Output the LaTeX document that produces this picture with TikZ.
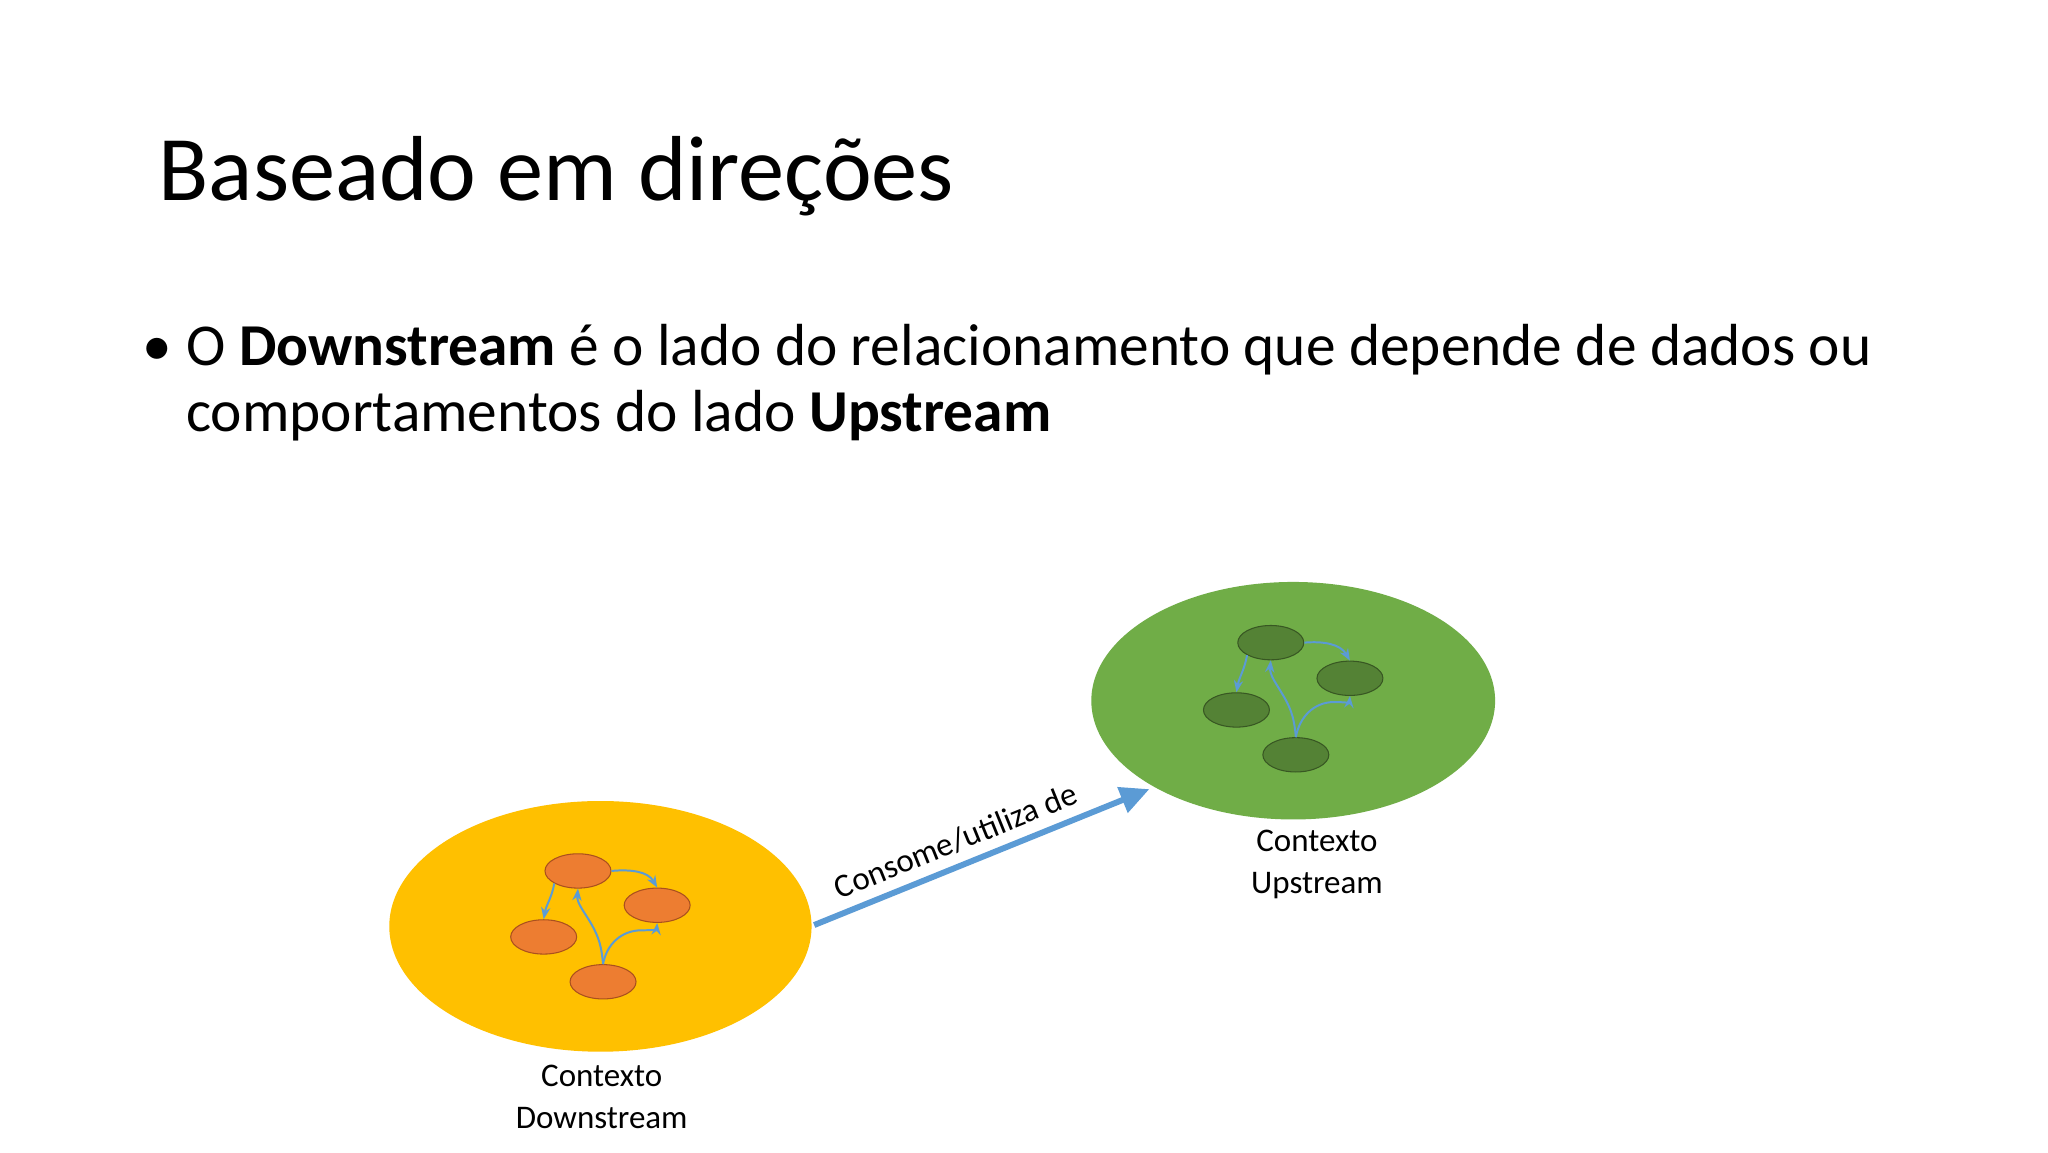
\documentclass[tikz,border=0pt]{standalone}
\usepackage{fontspec}
\setmainfont{Carlito}
\usetikzlibrary{arrows.meta,shapes.geometric}
\definecolor{cyel}{RGB}{255,192,0}
\definecolor{corg}{RGB}{237,125,49}
\definecolor{corgd}{RGB}{170,80,30}
\definecolor{cgrn}{RGB}{112,173,71}
\definecolor{cgrnm}{RGB}{84,130,53}
\definecolor{cgrnd}{RGB}{56,87,35}
\definecolor{cblu}{RGB}{91,155,213}
\begin{document}
\begin{tikzpicture}[x=1pt,y=-1pt,
  orng/.style={ellipse,draw=corgd,fill=corg,line width=0.8pt,minimum width=50pt,minimum height=26pt,inner sep=0pt},
  grn/.style={ellipse,draw=cgrnd,fill=cgrnm,line width=0.8pt,minimum width=50pt,minimum height=26pt,inner sep=0pt},
  sm/.style={draw=cblu,line width=1.5pt,-{Stealth[length=9pt,width=7pt]}},
  lbl/.style={font=\fontsize{25}{32}\selectfont,align=center}]
\useasboundingbox (0,0) rectangle (1552,873);
\fill[white] (0,0) rectangle (1552,873);
\node[anchor=base west,inner sep=0pt,font=\fontsize{70}{80}\selectfont] (title) at (120,152) {Baseado em direções};
\node[anchor=base west,inner sep=0pt,font=\fontsize{45}{50}\selectfont] (bul) at (108,277) {•};
\node[anchor=base west,inner sep=0pt,font=\fontsize{45}{50}\selectfont] (l1) at (141,277) {O \textbf{Downstream} é o lado do relacionamento que depende de dados ou};
\node[anchor=base west,inner sep=0pt,font=\fontsize{45}{50}\selectfont] (l2) at (141,327) {comportamentos do lado \textbf{Upstream}};
% downstream
\fill[cyel] (455,702) ellipse [x radius=160,y radius=95];
\coordinate (dR) at (617,701);
\node[orng] (o1) at (438,660) {};
\node[orng] (o2) at (498,686) {};
\node[orng] (o3) at (412,710) {};
\node[orng] (o4) at (457,744) {};
\draw[sm] (o1.east) to[out=5,in=120] (o2.north);
\draw[sm] (o1.south west) to[out=-100,in=80] (o3.north);
\draw[sm] (o4.north) to[out=95,in=-60] (448,700) to[out=120,in=-95] (o1.south);
\draw[sm] (o4.north) to[out=80,in=180] (486,705) to[out=0,in=-95] (o2.south);
% upstream
\fill[cgrn] (980,531) ellipse [x radius=153,y radius=90];
\coordinate (uL) at (871,598);
\node[grn] (g1) at (963,487) {};
\node[grn] (g2) at (1023,514) {};
\node[grn] (g3) at (937,538) {};
\node[grn] (g4) at (982,572) {};
\draw[sm] (g1.east) to[out=5,in=120] (g2.north);
\draw[sm] (g1.south west) to[out=-100,in=80] (g3.north);
\draw[sm] (g4.north) to[out=95,in=-60] (973,528) to[out=120,in=-95] (g1.south);
\draw[sm] (g4.north) to[out=80,in=180] (1011,532) to[out=0,in=-95] (g2.south);
% main arrow
\draw[draw=cblu,line width=4.5pt,-{Triangle[length=22pt,width=20pt]}] (dR) -- (uL)
  node[pos=0.45,above=4pt,sloped,font=\fontsize{25}{28}\selectfont] (arrlbl) {Consome/utiliza de};
\node[lbl] (dl) at (456,831) {Contexto\\Downstream};
\node[lbl] (ul) at (998,655) {Contexto\\Upstream};
\end{tikzpicture}
\end{document}
